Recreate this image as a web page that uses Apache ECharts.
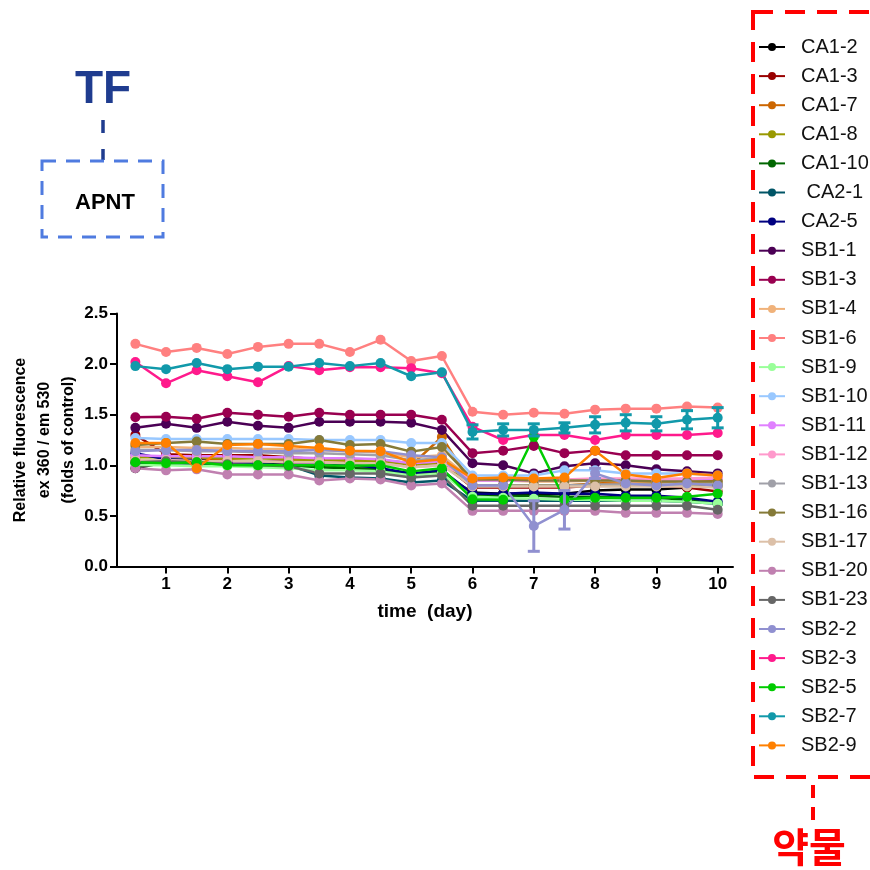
<!DOCTYPE html>
<html>
<head>
<meta charset="utf-8">
<script src="https://cdn.jsdelivr.net/npm/echarts@6/dist/echarts.min.js"></script>
<style>
  html, body { margin: 0; padding: 0; background: #fff; }
  #chart { width: 870px; height: 870px; }
</style>
</head>
<body>
<div id="chart"></div>
<script>
// time points (day)
const days = [0.5, 1, 1.5, 2, 2.5, 3, 3.5, 4, 4.5, 5, 5.5, 6, 6.5, 7, 7.5, 8, 8.5, 9, 9.5, 10];
const xTicks = [1, 2, 3, 4, 5, 6, 7, 8, 9, 10];

const names = ['CA1-2', 'CA1-3', 'CA1-7', 'CA1-8', 'CA1-10', ' CA2-1', 'CA2-5', 'SB1-1', 'SB1-3', 'SB1-4',
  'SB1-6', 'SB1-9', 'SB1-10', 'SB1-11', 'SB1-12', 'SB1-13', 'SB1-16', 'SB1-17', 'SB1-20', 'SB1-23',
  'SB2-2', 'SB2-3', 'SB2-5', 'SB2-7', 'SB2-9'];

const colors = ['#000000', '#990000', '#cc6600', '#999900', '#006600', '#005566', '#000080', '#4b0055', '#990050', '#f0b27a',
  '#ff8080', '#99ff99', '#99c8ff', '#e080ff', '#ff99cc', '#a0a0a8', '#857a38', '#dcc0a8', '#c080b0', '#666666',
  '#9090d0', '#ff1a8c', '#00cc00', '#1199aa', '#ff8000'];

// relative fluorescence (folds of control), one array per drug
const ca1_2  = [0.97, 1.03, 1.03, 1.03, 1.03, 1.02, 0.99, 0.97, 0.96, 0.90, 0.92, 0.73, 0.72, 0.72, 0.72, 0.75, 0.76, 0.76, 0.78, 0.80];
const ca1_3  = [1.30, 1.11, 1.10, 1.10, 1.10, 1.08, 1.06, 1.06, 1.05, 1.02, 1.02, 0.78, 0.78, 0.78, 0.78, 0.80, 0.80, 0.80, 0.78, 0.74];
const ca1_7  = [1.05, 1.05, 1.06, 1.05, 1.04, 1.04, 1.03, 1.03, 1.02, 1.00, 1.28, 0.80, 0.80, 0.80, 0.80, 0.82, 0.83, 0.83, 0.85, 0.85];
const ca1_8  = [1.08, 1.08, 1.08, 1.07, 1.07, 1.06, 1.05, 1.05, 1.04, 1.00, 1.02, 0.80, 0.80, 0.80, 0.80, 0.80, 0.80, 0.80, 0.80, 0.80];
const ca1_10 = [1.03, 1.02, 1.02, 1.01, 1.01, 1.00, 0.98, 0.97, 0.96, 0.92, 0.93, 0.70, 0.70, 0.70, 0.69, 0.69, 0.68, 0.68, 0.66, 0.62];
const ca2_1  = [1.02, 1.02, 1.02, 1.01, 1.01, 1.00, 0.90, 0.88, 0.87, 0.83, 0.85, 0.65, 0.65, 0.65, 0.65, 0.65, 0.65, 0.65, 0.64, 0.62];
const ca2_5  = [1.12, 1.06, 1.05, 1.03, 1.04, 1.03, 1.02, 1.01, 0.97, 0.92, 0.95, 0.72, 0.72, 0.73, 0.72, 0.72, 0.70, 0.70, 0.68, 0.64];
const sb1_1  = [1.37, 1.41, 1.37, 1.43, 1.39, 1.37, 1.43, 1.43, 1.43, 1.42, 1.35, 1.02, 1.00, 0.92, 0.99, 1.02, 1.00, 0.96, 0.94, 0.92];
const sb1_3  = [1.475, 1.48, 1.46, 1.52, 1.50, 1.48, 1.52, 1.50, 1.50, 1.50, 1.45, 1.12, 1.145, 1.19, 1.12, 1.145, 1.10, 1.10, 1.10, 1.10];
const sb1_4  = [1.18, 1.18, 1.17, 1.17, 1.16, 1.16, 1.15, 1.14, 1.13, 1.08, 1.10, 0.85, 0.85, 0.84, 0.84, 0.85, 0.84, 0.84, 0.84, 0.83];
const sb1_6  = [2.20, 2.12, 2.16, 2.10, 2.17, 2.20, 2.20, 2.12, 2.24, 2.03, 2.08, 1.53, 1.50, 1.52, 1.51, 1.55, 1.56, 1.56, 1.58, 1.57];
const sb1_9  = [1.00, 1.00, 0.99, 0.99, 0.98, 0.97, 0.95, 0.95, 0.94, 0.90, 0.92, 0.69, 0.68, 0.67, 0.66, 0.66, 0.65, 0.65, 0.64, 0.62];
const sb1_10 = [1.27, 1.26, 1.26, 1.26, 1.26, 1.26, 1.25, 1.25, 1.25, 1.22, 1.22, 0.90, 0.90, 0.90, 0.95, 0.95, 0.92, 0.92, 0.92, 0.90];
const sb1_11 = [1.10, 1.09, 1.09, 1.09, 1.08, 1.08, 1.07, 1.07, 1.06, 1.02, 1.04, 0.85, 0.85, 0.85, 0.85, 0.86, 0.86, 0.86, 0.86, 0.87];
const sb1_12 = [1.05, 1.05, 1.04, 1.04, 1.04, 1.03, 1.03, 1.02, 1.02, 0.98, 1.00, 0.87, 0.87, 0.86, 0.86, 0.87, 0.87, 0.87, 0.87, 0.88];
const sb1_13 = [1.15, 1.15, 1.14, 1.14, 1.13, 1.12, 1.12, 1.11, 1.10, 1.05, 1.07, 0.80, 0.80, 0.80, 0.80, 0.81, 0.81, 0.81, 0.81, 0.82];
const sb1_16 = [1.20, 1.22, 1.235, 1.21, 1.21, 1.21, 1.25, 1.20, 1.21, 1.135, 1.18, 0.86, 0.86, 0.85, 0.85, 0.85, 0.85, 0.84, 0.84, 0.84];
const sb1_17 = [1.05, 1.05, 1.04, 1.04, 1.04, 1.03, 1.03, 1.02, 1.02, 0.98, 1.00, 0.79, 0.79, 0.79, 0.79, 0.79, 0.79, 0.79, 0.79, 0.78];
const sb1_20 = [0.97, 0.95, 0.96, 0.91, 0.91, 0.91, 0.85, 0.87, 0.86, 0.80, 0.82, 0.55, 0.55, 0.55, 0.55, 0.55, 0.53, 0.53, 0.53, 0.52];
const sb1_23 = [1.03, 1.04, 1.03, 1.01, 1.00, 0.99, 0.92, 0.92, 0.92, 0.88, 0.90, 0.60, 0.60, 0.60, 0.60, 0.60, 0.60, 0.60, 0.60, 0.56];
const sb2_2  = [1.14, 1.15, 1.15, 1.145, 1.14, 1.14, 1.15, 1.14, 1.14, 1.10, 1.08, 0.80, 0.80, 0.40, 0.56, 0.92, 0.82, 0.80, 0.82, 0.80];
const sb2_3  = [2.02, 1.81, 1.94, 1.88, 1.82, 1.98, 1.94, 1.97, 1.97, 1.96, 1.91, 1.38, 1.25, 1.30, 1.30, 1.25, 1.30, 1.30, 1.30, 1.32];
const sb2_5  = [1.03, 1.02, 1.03, 1.00, 1.00, 1.00, 1.00, 0.995, 1.00, 0.94, 0.97, 0.665, 0.66, 1.28, 0.665, 0.68, 0.68, 0.68, 0.69, 0.72];
const sb2_7  = [1.98, 1.95, 2.01, 1.95, 1.975, 1.975, 2.01, 1.98, 2.01, 1.88, 1.92, 1.33, 1.35, 1.35, 1.37, 1.40, 1.42, 1.41, 1.45, 1.47];
const sb2_9  = [1.22, 1.22, 0.97, 1.20, 1.21, 1.19, 1.17, 1.145, 1.14, 1.03, 1.06, 0.87, 0.88, 0.87, 0.88, 1.145, 0.91, 0.875, 0.92, 0.90];

// visible error bars (± value), 0 = none
const sb2_2Err = [0, 0, 0, 0, 0, 0, 0, 0, 0, 0, 0, 0, 0, 0.25, 0.19, 0.05, 0, 0, 0, 0];
const sb2_7Err = [0, 0, 0, 0, 0, 0, 0, 0, 0, 0, 0, 0.07, 0.06, 0.06, 0.05, 0.08, 0.08, 0.07, 0.09, 0.10];

const values = [ca1_2, ca1_3, ca1_7, ca1_8, ca1_10, ca2_1, ca2_5, sb1_1, sb1_3, sb1_4,
  sb1_6, sb1_9, sb1_10, sb1_11, sb1_12, sb1_13, sb1_16, sb1_17, sb1_20, sb1_23,
  sb2_2, sb2_3, sb2_5, sb2_7, sb2_9];

const font = '"Liberation Sans", Arial, sans-serif';

const lineSeries = names.map((name, i) => ({
  name: name,
  type: 'line',
  data: days.map((d, j) => [d, values[i][j]]),
  symbol: 'circle',
  symbolSize: 10,
  color: colors[i],
  lineStyle: { width: 2.5 },
  emphasis: { disabled: true },
  animation: false,
  z: 2
}));

function errSeries(name, vals, errs, color) {
  return {
    name: name + ' err',
    type: 'custom',
    data: days.map((d, j) => [d, vals[j], errs[j]]).filter(r => r[2] > 0),
    renderItem(params, api) {
      const x = api.value(0), y = api.value(1), e = api.value(2);
      const hi = api.coord([x, y + e]);
      const lo = api.coord([x, y - e]);
      const st = { stroke: color, lineWidth: 3 };
      return {
        type: 'group',
        children: [
          { type: 'line', shape: { x1: hi[0], y1: hi[1], x2: lo[0], y2: lo[1] }, style: st },
          { type: 'line', shape: { x1: hi[0] - 6, y1: hi[1], x2: hi[0] + 6, y2: hi[1] }, style: st },
          { type: 'line', shape: { x1: lo[0] - 6, y1: lo[1], x2: lo[0] + 6, y2: lo[1] }, style: st }
        ]
      };
    },
    animation: false,
    z: 3
  };
}

const chart = echarts.init(document.getElementById('chart'), null, { renderer: 'canvas' });

chart.setOption({
  backgroundColor: '#fff',
  animation: false,
  grid: { left: 117, right: 137, top: 313.5, bottom: 303.5, containLabel: false, outerBoundsMode: 'none' },
  legend: {
    data: names,
    orient: 'vertical',
    left: 758,
    top: 37,
    padding: 0,
    itemWidth: 26,
    itemHeight: 10,
    itemGap: 9.1,
    textStyle: { fontSize: 20, lineHeight: 20, fontFamily: font, color: '#111', padding: [0, 0, 0, 11] },
    selectedMode: false
  },
  xAxis: {
    type: 'value',
    min: 0.2,
    max: 10.25,
    name: 'time  (day)',
    nameLocation: 'middle',
    nameGap: 36,
    nameMoveOverlap: false,
    nameTextStyle: { fontSize: 19, fontWeight: 'bold', fontFamily: font, color: '#000' },
    axisLine: { lineStyle: { color: '#000', width: 2 } },
    axisTick: { length: 7, lineStyle: { color: '#000', width: 2 }, customValues: xTicks },
    axisLabel: { fontSize: 17, fontWeight: 'bold', fontFamily: font, color: '#000', margin: 9, customValues: xTicks },
    splitLine: { show: false }
  },
  yAxis: {
    type: 'value',
    min: 0,
    max: 2.5,
    interval: 0.5,
    name: 'Relative fluorescence\nex 360 / em 530\n(folds of control)',
    nameLocation: 'middle',
    nameGap: 36,
    nameMoveOverlap: false,
    nameTextStyle: { fontSize: 16, lineHeight: 24, fontWeight: 'bold', fontFamily: font, color: '#000' },
    axisLine: { show: true, lineStyle: { color: '#000', width: 2 } },
    axisTick: { show: true, length: 7, lineStyle: { color: '#000', width: 2 } },
    axisLabel: { fontSize: 17, fontWeight: 'bold', fontFamily: font, color: '#000', margin: 9, formatter: v => v.toFixed(1) },
    splitLine: { show: false }
  },
  series: lineSeries.concat([
    errSeries('SB2-2', sb2_2, sb2_2Err, colors[20]),
    errSeries('SB2-7', sb2_7, sb2_7Err, colors[23])
  ]),
  graphic: [
    { type: 'text', x: 103, y: 90, style: { text: 'TF', font: 'bold 46px ' + font, fill: '#1f3c8f', textAlign: 'center', textVerticalAlign: 'middle' } },
    { type: 'line', shape: { x1: 103, y1: 120, x2: 103, y2: 160 }, style: { stroke: '#1f3c8f', lineWidth: 3.5, lineDash: [13, 16] } },
    { type: 'rect', shape: { x: 42, y: 161, width: 121, height: 76 }, style: { fill: 'none', stroke: '#4f7be0', lineWidth: 3, lineDash: [14, 10] } },
    { type: 'text', x: 105, y: 203, style: { text: 'APNT', font: 'bold 22px ' + font, fill: '#000', textAlign: 'center', textVerticalAlign: 'middle' } },
    { type: 'rect', shape: { x: 753, y: 12, width: 140, height: 765 }, style: { fill: 'none', stroke: '#ff0000', lineWidth: 4, lineDash: [20, 12] } },
    { type: 'line', shape: { x1: 813, y1: 785, x2: 813, y2: 822 }, style: { stroke: '#ff0000', lineWidth: 4, lineDash: [13, 9] } },
    { type: 'text', x: 809, y: 847, style: { text: '약물', font: 'bold 40px "Noto Sans CJK KR", sans-serif', fill: '#ff0000', textAlign: 'center', textVerticalAlign: 'middle' } }
  ]
});
</script>
</body>
</html>
